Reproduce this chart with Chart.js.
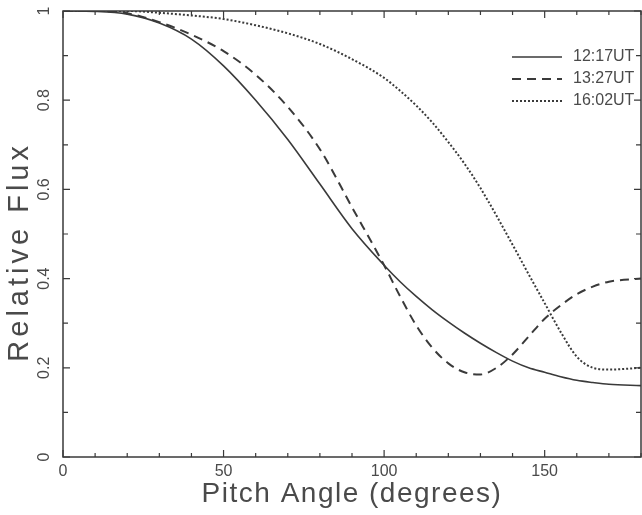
<!DOCTYPE html>
<html>
<head>
<meta charset="utf-8">
<script src="https://cdn.jsdelivr.net/npm/chart.js@4/dist/chart.umd.min.js"></script>
<style>
  html, body { margin: 0; padding: 0; background: #fff; overflow: hidden; }
</style>
</head>
<body>
<canvas id="fluxChart" width="642" height="515"></canvas>
<script>
// pitch angle grid (degrees)
const pitchAngles = [0, 10, 20, 30, 40, 50, 60, 70, 80, 90, 100, 105, 110, 115, 120, 125, 130, 135, 140, 145, 150, 155, 160, 165, 170, 180];

// relative flux for each time
const flux1217 = [1.0, 0.999, 0.993, 0.973, 0.937, 0.877, 0.80, 0.712, 0.612, 0.512, 0.43, 0.393, 0.36, 0.33, 0.303, 0.278, 0.255, 0.234, 0.215, 0.2, 0.19, 0.18, 0.172, 0.167, 0.163, 0.16];
const flux1327 = [1.0, 1.0, 0.995, 0.975, 0.947, 0.91, 0.857, 0.785, 0.69, 0.56, 0.43, 0.36, 0.295, 0.245, 0.21, 0.19, 0.185, 0.2, 0.23, 0.27, 0.31, 0.34, 0.365, 0.382, 0.393, 0.40];
const flux1602 = [1.0, 1.0, 1.0, 0.996, 0.99, 0.982, 0.968, 0.95, 0.926, 0.892, 0.85, 0.821, 0.788, 0.75, 0.706, 0.658, 0.603, 0.541, 0.476, 0.41, 0.345, 0.28, 0.225, 0.2, 0.196, 0.20];

const seriesNames = ['12:17UT', '13:27UT', '16:02UT'];

// tick labels
const xTickLabels = [0, 50, 100, 150];
const yTickLabels = [0, 0.2, 0.4, 0.6, 0.8, 1];

const xTitle = 'Pitch Angle (degrees)';
const yTitle = 'Relative Flux';

const inkColor = '#3a3a3a';
const textColor = '#4a4a4a';
const fontName = '"Liberation Sans", Arial, sans-serif';

const toPoints = (vals) => pitchAngles.map((a, i) => ({ x: a, y: vals[i] }));

const frameAndLabels = {
    id: 'frameAndLabels',
    afterDraw(chart) {
        const ctx = chart.ctx;
        const area = chart.chartArea;
        const xs = chart.scales.x;
        const ys = chart.scales.y;

        ctx.save();
        ctx.strokeStyle = inkColor;
        ctx.lineWidth = 1.5;
        ctx.strokeRect(area.left, area.top, area.right - area.left, area.bottom - area.top);

        // inward ticks, all four sides
        ctx.lineWidth = 1.2;
        ctx.beginPath();
        for (let a = 0; a <= 180; a += 10) {
            const px = xs.getPixelForValue(a);
            const len = a % 50 === 0 ? 7 : 4;
            ctx.moveTo(px, area.bottom);
            ctx.lineTo(px, area.bottom - len);
            ctx.moveTo(px, area.top);
            ctx.lineTo(px, area.top + len);
        }
        for (let k = 0; k <= 10; k++) {
            const py = ys.getPixelForValue(k / 10);
            const len = k % 2 === 0 ? 7 : 5;
            ctx.moveTo(area.left, py);
            ctx.lineTo(area.left + len, py);
            ctx.moveTo(area.right, py);
            ctx.lineTo(area.right - len, py);
        }
        ctx.stroke();

        // tick labels
        ctx.fillStyle = textColor;
        ctx.font = '16px ' + fontName;
        ctx.textAlign = 'center';
        ctx.textBaseline = 'middle';
        xTickLabels.forEach(v => {
            ctx.fillText(String(v), xs.getPixelForValue(v), area.bottom + 15);
        });
        yTickLabels.forEach(v => {
            ctx.save();
            ctx.translate(area.left - 18, ys.getPixelForValue(v));
            ctx.rotate(-Math.PI / 2);
            ctx.fillText(String(v), 0, 0);
            ctx.restore();
        });

        // axis titles
        ctx.font = '28px ' + fontName;
        ctx.letterSpacing = '1.5px';
        ctx.fillText(xTitle, (area.left + area.right) / 2, area.bottom + 37);
        ctx.save();
        ctx.font = '29px ' + fontName;
        ctx.letterSpacing = '4px';
        ctx.translate(20, ys.getPixelForValue(0.46));
        ctx.rotate(-Math.PI / 2);
        ctx.fillText(yTitle, 0, 0);
        ctx.restore();
        ctx.letterSpacing = '0px';

        // legend, upper right inside the frame
        ctx.font = '16px ' + fontName;
        ctx.textAlign = 'left';
        chart.data.datasets.forEach((ds, i) => {
            const y = 57 + i * 22;
            ctx.save();
            ctx.strokeStyle = ds.borderColor;
            ctx.lineWidth = ds.borderWidth;
            ctx.setLineDash(ds.borderDash || []);
            ctx.beginPath();
            ctx.moveTo(512, y);
            ctx.lineTo(562, y);
            ctx.stroke();
            ctx.restore();
            ctx.fillText(ds.label, 573, y);
        });
        ctx.restore();
    }
};

const config = {
    type: 'line',
    data: {
        datasets: [
            { label: seriesNames[0], data: toPoints(flux1217), borderColor: inkColor, borderWidth: 1.6, borderDash: [] },
            { label: seriesNames[1], data: toPoints(flux1327), borderColor: inkColor, borderWidth: 2, borderDash: [9, 6] },
            { label: seriesNames[2], data: toPoints(flux1602), borderColor: inkColor, borderWidth: 2, borderDash: [2, 2] }
        ]
    },
    options: {
        responsive: false,
        animation: false,
        elements: {
            point: { radius: 0 },
            line: { cubicInterpolationMode: 'monotone', fill: false }
        },
        layout: { padding: { top: 11, right: 1, left: 0, bottom: 0 } },
        plugins: {
            legend: { display: false },
            tooltip: { enabled: false }
        },
        scales: {
            x: {
                type: 'linear',
                min: 0,
                max: 180,
                grid: { display: false },
                border: { display: false },
                ticks: { display: false, stepSize: 10 },
                afterFit: (scale) => { scale.height = 58; }
            },
            y: {
                min: 0,
                max: 1,
                grid: { display: false },
                border: { display: false },
                ticks: { display: false, stepSize: 0.1 },
                afterFit: (scale) => { scale.width = 63; }
            }
        }
    },
    plugins: [frameAndLabels]
};

const fluxChart = new Chart(document.getElementById('fluxChart'), config);
</script>
</body>
</html>
